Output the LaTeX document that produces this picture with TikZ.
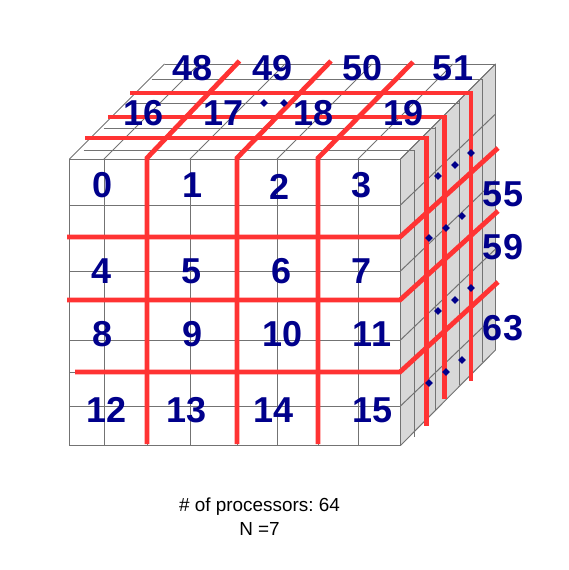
\documentclass[tikz,border=0pt]{standalone}
\usepackage{fontspec}
\setmainfont{Liberation Sans}
\frenchspacing
\usetikzlibrary{shapes.geometric}
\definecolor{cellgray}{RGB}{115,115,115}
\definecolor{sidegray}{RGB}{216,216,216}
\definecolor{linkred}{RGB}{255,51,51}
\definecolor{ranknavy}{RGB}{0,0,139}
\tikzset{
  grid line/.style={draw=cellgray,line width=1pt},
  link/.style={draw=linkred,line width=4.8pt,line join=miter},
  rank/.style={text=ranknavy,font=\fontsize{36}{36}\bfseries\selectfont,inner sep=0pt},
  gap dot/.style={diamond,fill=ranknavy,inner sep=0pt,minimum size=8pt},
  caption/.style={font=\fontsize{18.9}{22}\selectfont,inner sep=0pt,anchor=base}
}
\begin{document}
\begin{tikzpicture}[x=1pt,y=-1pt]
  \useasboundingbox (0,0) rectangle (569,570);

  %side face
  \fill[sidegray] (400.5,159) -- (495.5,64) -- (495.5,350) -- (400.5,445.5) -- cycle;
  \foreach \xx/\ys/\ye in {414.5/151/437,435/127/411,459/100/385,482/79/362,495.5/64/350}
    \draw[grid line] (\xx,\ys) -- (\xx,\ye);
  \foreach \yy/\dyy in {159/95,205/91,271/91,340/91,406/91,445.5/95.5}
    \draw[grid line] (400.5,\yy) -- (495.5,\yy-\dyy);

  %top face
  \foreach \dx/\dy in {14/9,34/31,58/56,82/80,95/95}
    \draw[grid line] (69.5+\dx,159-\dy) -- (400.5+\dx,159-\dy);
  \foreach \xx in {69.5,104,190,277,358,400.5}
    \draw[grid line] (\xx,159) -- (\xx+95,64);

  %front face
  \foreach \xx in {69.5,104,147,190,237,277,318,358,400.5}
    \draw[grid line] (\xx,159) -- (\xx,445.5);
  \foreach \yy in {159,205,237,271,300,340,372,406,445.5}
    \draw[grid line] (69.5,\yy) -- (400.5,\yy);

  %links along the depth
  \foreach \xx/\xt/\yt in {147/239.5/61,237/331/61,318/413/62}
    \draw[link] (\xx,444) -- (\xx,158) -- (\xt,\yt);
  %links on the top
  \foreach \xs/\ys/\xe/\ye in {130/93/471/381,108/117/444.5/399,85/138/426.5/426}
    \draw[link] (\xs,\ys) -- (\xe,\ys) -- (\xe,\ye);
  %links on the front
  \foreach \xs/\ys/\ye in {67/237/148,67/300/211,75/372/282}
    \draw[link] (\xs,\ys) -- (400,\ys) -- (498,\ye);

  %ranks
  \foreach \lab/\xx/\yy in {48/193/68,49/273/68,50/363/68,51/453/68,
      16/144/113,17/224/113,18/314/113,19/404/113,
      0/103/185,1/193/185,2/280/187,3/362/185,
      4/102/271,5/192/271,6/282/271,7/362/271,
      8/103/334,9/193/334,10/283/334,11/372/334,
      12/107/410,13/187/410,14/274/410,15/373/410,
      55/503/194,59/503/247,63/503/328}
    \node[rank] (r\lab) at (\xx,\yy) {\lab};

  %elided ranks
  \foreach \xx/\yy [count=\i] in {264/103,284/103,
      438/176,455/165,471/153,429/238,446/228,462/216,
      438/311,455/300,471/288,429/383,446/372,462/360}
    \node[gap dot] (d\i) at (\xx,\yy) {};

  \node[caption] (procs) at (259.5,511) {\# of processors: 64};
  \node[caption] (size) at (259.5,535.5) {N =7};
\end{tikzpicture}
\end{document}
